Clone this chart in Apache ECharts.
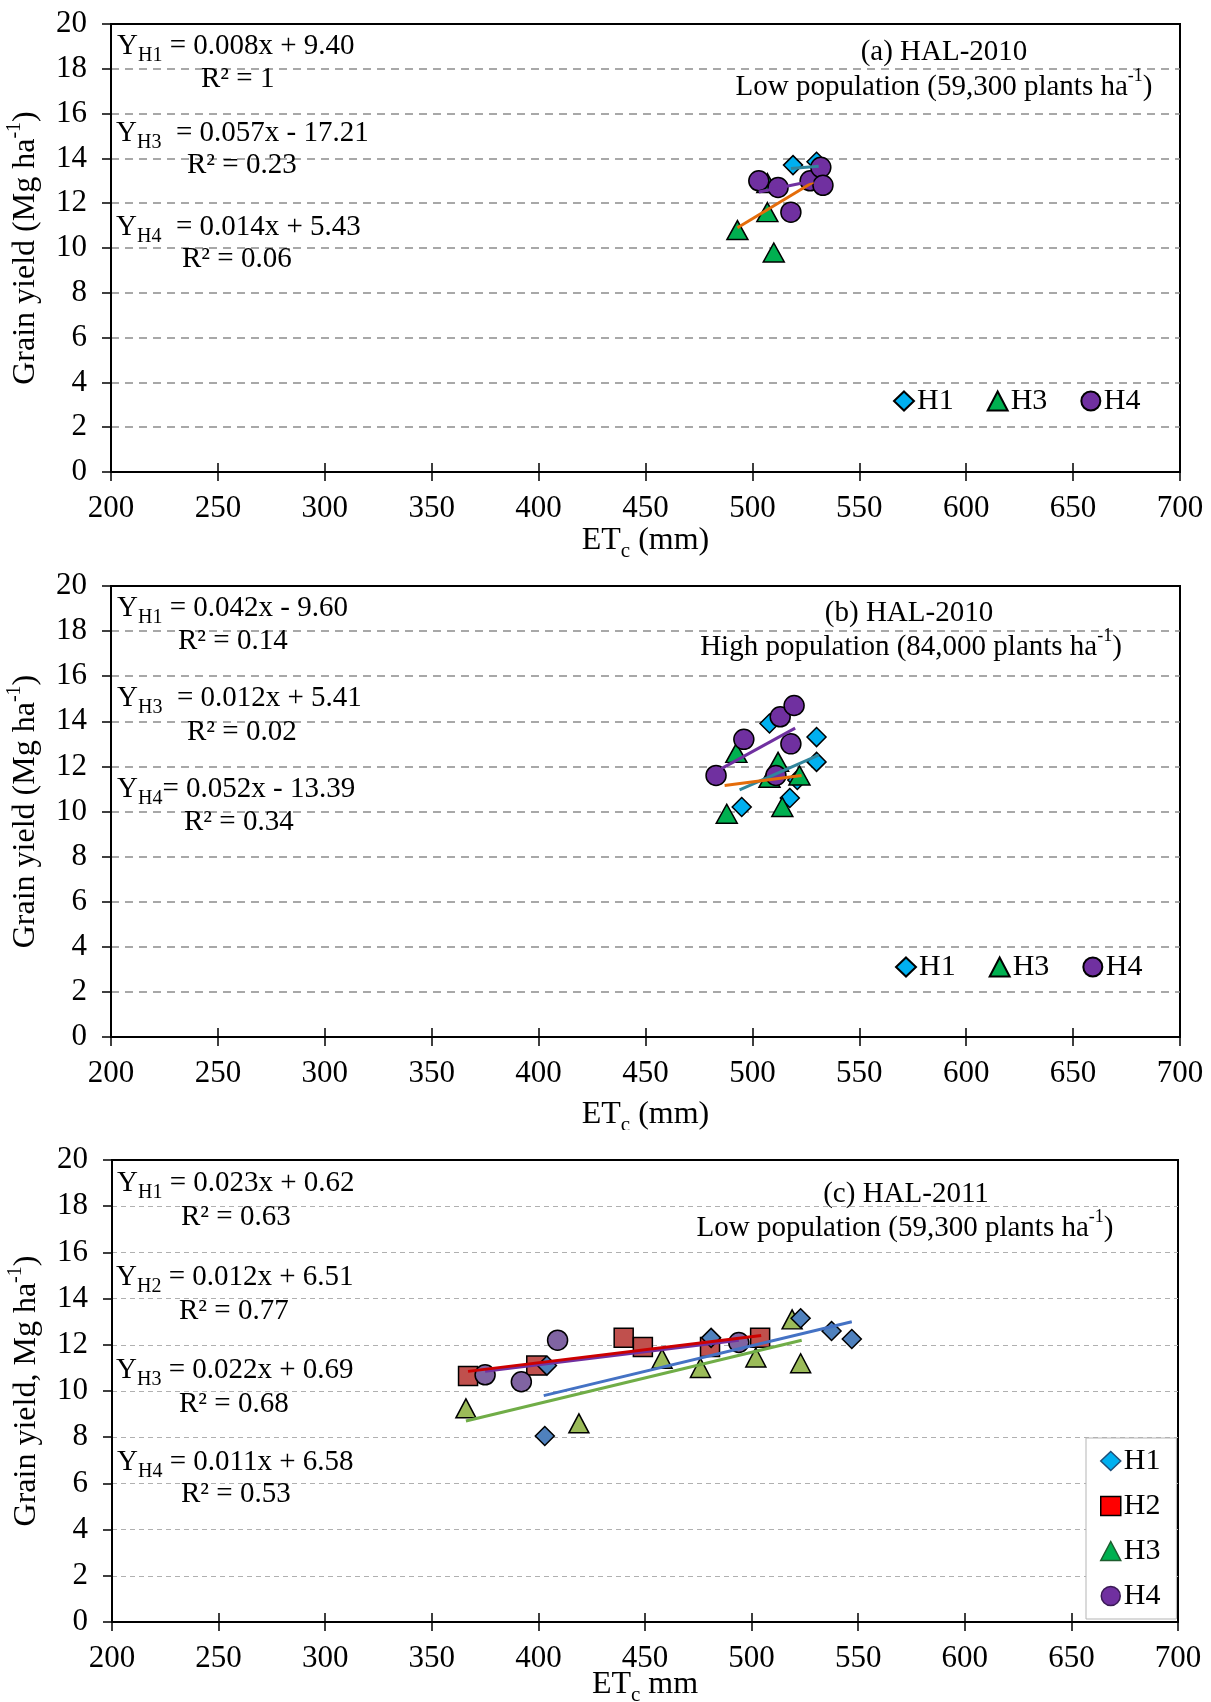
<!DOCTYPE html>
<html>
<head>
<meta charset="utf-8">
<script src="https://cdn.jsdelivr.net/npm/echarts@6/dist/echarts.min.js"></script>
<style>
html, body { margin: 0; padding: 0; background: #fff; }
#wrap { position: relative; width: 1211px; height: 1702px; }
.panel { position: absolute; left: 0; width: 1211px; }
</style>
</head>
<body>
<div id="wrap">
  <div id="chartA" class="panel" style="top:0;height:560px"></div>
  <div id="chartB" class="panel" style="top:560px;height:570px"></div>
  <div id="chartC" class="panel" style="top:1130px;height:572px"></div>
</div>
<script>
// axis ticks
const xTicks = [200, 250, 300, 350, 400, 450, 500, 550, 600, 650, 700]
const yTicks = [0, 2, 4, 6, 8, 10, 12, 14, 16, 18, 20]

// (a) HAL-2010, low population
const aH1_et = [519, 530]
const aH1_y = [13.7, 13.85]
const aH3_et = [493, 507, 507, 510]
const aH3_y = [10.8, 11.6, 12.9, 9.8]
const aH4_et = [503, 512, 518, 527, 532, 533]
const aH4_y = [13.0, 12.7, 11.6, 13.0, 13.6, 12.8]
const aH1_fit_et = [518, 531]
const aH1_fit_y = [13.55, 13.65]
const aH3_fit_et = [493, 528.5]
const aH3_fit_y = [10.9, 12.95]
const aH4_fit_et = [503, 528.5]
const aH4_fit_y = [12.5, 13.0]

// (b) HAL-2010, high population
const bH1_et = [508, 530, 530, 521, 517.5, 495]
const bH1_y = [13.9, 13.3, 12.2, 11.4, 10.6, 10.2]
const bH3_et = [492.5, 512, 508, 522, 488, 514]
const bH3_y = [12.6, 12.2, 11.5, 11.6, 9.9, 10.2]
const bH4_et = [483, 496, 513, 519.5, 518, 511]
const bH4_y = [11.6, 13.2, 14.2, 14.7, 13.0, 11.6]
const bH1_fit_et = [494, 531]
const bH1_fit_y = [10.96, 12.5]
const bH3_fit_et = [487, 523]
const bH3_fit_y = [11.15, 11.6]
const bH4_fit_et = [485.5, 520]
const bH4_fit_y = [11.9, 13.7]

// (c) HAL-2011, low population
const cH1_et = [404, 403, 481, 523, 537.5, 547]
const cH1_y = [11.1, 8.05, 12.3, 13.15, 12.6, 12.25]
const cH2_et = [367, 399, 440, 449, 480.5, 504]
const cH2_y = [10.65, 11.1, 12.3, 11.9, 11.9, 12.3]
const cH3_et = [366, 419, 458, 476, 502, 519, 523]
const cH3_y = [9.25, 8.6, 11.4, 11.0, 11.45, 13.1, 11.2]
const cH4_et = [375, 392, 409, 494]
const cH4_y = [10.7, 10.4, 12.2, 12.1]
const cH1_fit_et = [402.5, 547]
const cH1_fit_y = [9.8, 13.0]
const cH2_fit_et = [367, 504.5]
const cH2_fit_y = [10.85, 12.4]
const cH3_fit_et = [366, 523.5]
const cH3_fit_y = [8.7, 12.2]
const cH4_fit_et = [375, 494]
const cH4_fit_y = [10.85, 12.2]

const FONT = '"Liberation Serif", "Times New Roman", serif'

// rich text for the equations and panel labels
const rich = {
  t: { fontFamily: FONT, fontSize: 29, color: '#000', lineHeight: 40 },
  s: { fontFamily: FONT, fontSize: 20, color: '#000', verticalAlign: 'bottom', lineHeight: 22 },
  p: { fontFamily: FONT, fontSize: 18, color: '#000', verticalAlign: 'top', lineHeight: 20 }
}
// a bit larger for the axis titles
const richName = {
  t: { fontFamily: FONT, fontSize: 32, color: '#000', lineHeight: 42 },
  s: { fontFamily: FONT, fontSize: 21, color: '#000', verticalAlign: 'bottom', lineHeight: 22 },
  p: { fontFamily: FONT, fontSize: 20, color: '#000', verticalAlign: 'top', lineHeight: 22 }
}

function pairs(xs, ys) {
  return xs.map((x, i) => [x, ys[i]])
}

function scatter(name, xs, ys, symbol, size, color, z) {
  return {
    name: name, type: 'scatter', data: pairs(xs, ys),
    symbol: symbol, symbolSize: size, z: z || 2,
    itemStyle: { color: color, borderColor: '#000', borderWidth: 1.5, opacity: 1 },
    emphasis: { disabled: true }
  }
}

function fit(name, xs, ys, color) {
  return {
    name: name, type: 'line', data: pairs(xs, ys), symbol: 'none', z: 5,
    lineStyle: { color: color, width: 3 }, emphasis: { disabled: true }
  }
}

function txt(x, y, text, align) {
  return {
    type: 'text', x: x, y: y, z: 10,
    style: {
      text: text, rich: rich, fill: '#000',
      font: '29px "Liberation Serif"',
      align: align || 'left', verticalAlign: 'middle',
      textAlign: align || 'left', textVerticalAlign: 'middle'
    }
  }
}

function axes(opt) {
  const xMin = xTicks[0], xMax = xTicks[xTicks.length - 1], xStep = xTicks[1] - xTicks[0]
  const yMin = yTicks[0], yMax = yTicks[yTicks.length - 1], yStep = yTicks[1] - yTicks[0]
  const xAxis = [{
    type: 'value', min: xMin, max: xMax, interval: xStep, position: 'bottom',
    axisLine: { onZero: false, lineStyle: { color: '#000', width: 2 } },
    axisTick: { length: 9, lineStyle: { color: '#000', width: 1.5 } },
    axisLabel: { fontFamily: FONT, fontSize: 31, color: '#000', margin: 21 },
    splitLine: { show: false },
    name: opt.xName, nameLocation: 'middle', nameGap: opt.xGap, nameMoveOverlap: false,
    nameTextStyle: { rich: richName }
  }, {
    type: 'value', min: xMin, max: xMax, interval: xStep, position: 'bottom',
    axisLine: { show: false },
    axisTick: { inside: true, length: 9, lineStyle: { color: '#000', width: 1.5 } },
    axisLabel: { show: false }, splitLine: { show: false }
  }]
  const yAxis = [{
    type: 'value', min: yMin, max: yMax, interval: yStep,
    axisLine: { onZero: false, lineStyle: { color: '#000', width: 2 } },
    axisTick: { length: 9, lineStyle: { color: '#000', width: 1.5 } },
    axisLabel: { fontFamily: FONT, fontSize: 31, color: '#000', margin: 24 },
    splitLine: { show: true, showMinLine: false, showMaxLine: false, lineStyle: opt.split },
    name: opt.yName, nameLocation: 'middle', nameGap: opt.yGap, nameRotate: 90, nameMoveOverlap: false,
    nameTextStyle: { rich: richName }
  }]
  return { xAxis: xAxis, yAxis: yAxis }
}

const yNameAB = '{t|Grain yield (Mg ha}{p|-1}{t|)}'
const splitAB = { color: '#8c8c8c', width: 1.6, type: [8, 6] }
const splitC = { color: '#b0b0b0', width: 1, type: [5, 4] }

function legendTop(top, left) {
  return {
    left: left, top: top, padding: 0, itemGap: 33, itemWidth: 20, itemHeight: 19,
    textStyle: { fontFamily: FONT, fontSize: 30, color: '#000', padding: [0, 0, 0, -2] },
    data: [{ name: 'H1', icon: 'diamond' }, { name: 'H3', icon: 'triangle' }, { name: 'H4', icon: 'circle' }],
    selectedMode: false
  }
}

// ---------- (a)
const chartA = echarts.init(document.getElementById('chartA'))
const axA = axes({ xName: '{t|ET}{s|c}{t| (mm)}', xGap: 48, yName: yNameAB, yGap: 64, split: splitAB })
chartA.setOption({
  animation: false,
  grid: { left: 111, top: 24, width: 1069, height: 448, show: true, borderColor: '#000', borderWidth: 2, outerBoundsMode: 'none' },
  xAxis: axA.xAxis, yAxis: axA.yAxis,
  legend: legendTop(386, 893),
  series: [
    scatter('H1', aH1_et, aH1_y, 'diamond', 19, '#00B0F0', 2),
    scatter('H3', aH3_et, aH3_y, 'triangle', [21, 19], '#00B050', 3),
    scatter('H4', aH4_et, aH4_y, 'circle', 20, '#7030A0', 4),
    fit('H1 fit', aH1_fit_et, aH1_fit_y, '#31859C'),
    fit('H3 fit', aH3_fit_et, aH3_fit_y, '#E46C0A'),
    fit('H4 fit', aH4_fit_et, aH4_fit_y, '#7030A0')
  ],
  graphic: [
    txt(117, 46, '{t|Y}{s|H1}{t| = 0.008x + 9.40}'),
    txt(201, 79, '{t|R² = 1}'),
    txt(116, 133, '{t|Y}{s|H3}{t|  = 0.057x - 17.21}'),
    txt(187, 165, '{t|R² = 0.23}'),
    txt(116, 227, '{t|Y}{s|H4}{t|  = 0.014x + 5.43}'),
    txt(182, 259, '{t|R² = 0.06}'),
    txt(944, 52, '{t|(a) HAL-2010}', 'center'),
    txt(944, 87, '{t|Low population (59,300 plants ha}{p|-1}{t|)}', 'center')
  ]
})

// ---------- (b)
const chartB = echarts.init(document.getElementById('chartB'))
const axB = axes({ xName: '{t|ET}{s|c}{t| (mm)}', xGap: 57, yName: yNameAB, yGap: 64, split: splitAB })
chartB.setOption({
  animation: false,
  grid: { left: 111, top: 26, width: 1069, height: 451, show: true, borderColor: '#000', borderWidth: 2, outerBoundsMode: 'none' },
  xAxis: axB.xAxis, yAxis: axB.yAxis,
  legend: legendTop(392, 895),
  series: [
    scatter('H1', bH1_et, bH1_y, 'diamond', 19, '#00B0F0', 2),
    scatter('H3', bH3_et, bH3_y, 'triangle', [21, 19], '#00B050', 3),
    scatter('H4', bH4_et, bH4_y, 'circle', 20, '#7030A0', 4),
    fit('H1 fit', bH1_fit_et, bH1_fit_y, '#31859C'),
    fit('H3 fit', bH3_fit_et, bH3_fit_y, '#E46C0A'),
    fit('H4 fit', bH4_fit_et, bH4_fit_y, '#7030A0')
  ],
  graphic: [
    txt(117, 48, '{t|Y}{s|H1}{t| = 0.042x - 9.60}'),
    txt(178, 81, '{t|R² = 0.14}'),
    txt(117, 138, '{t|Y}{s|H3}{t|  = 0.012x + 5.41}'),
    txt(187, 172, '{t|R² = 0.02}'),
    txt(117, 229, '{t|Y}{s|H4}{t|= 0.052x - 13.39}'),
    txt(184, 262, '{t|R² = 0.34}'),
    txt(909, 53, '{t|(b) HAL-2010}', 'center'),
    txt(911, 87, '{t|High population (84,000 plants ha}{p|-1}{t|)}', 'center')
  ]
})

// ---------- (c)
const chartC = echarts.init(document.getElementById('chartC'))
const axC = axes({ xName: '{t|ET}{s|c}{t| mm}', xGap: 42, yName: '{t|Grain yield, Mg ha}{p|-1}{t|)}', yGap: 64, split: splitC })
chartC.setOption({
  animation: false,
  grid: { left: 112, top: 30, width: 1066, height: 462, show: true, borderColor: '#000', borderWidth: 2, outerBoundsMode: 'none' },
  xAxis: axC.xAxis, yAxis: axC.yAxis,
  legend: {
    orient: 'vertical', left: 1086, top: 308, padding: [8, 16, 8, 14], itemGap: 15,
    itemWidth: 20, itemHeight: 19, borderColor: '#b5b5b5', borderWidth: 1, backgroundColor: '#fff',
    textStyle: { fontFamily: FONT, fontSize: 30, color: '#000', padding: [0, 0, 0, -2] },
    selectedMode: false,
    data: [
      { name: 'H1', icon: 'diamond', itemStyle: { color: '#00B0F0', borderColor: '#1f4e79', borderWidth: 1.5 } },
      { name: 'H2', icon: 'rect', itemStyle: { color: '#FF0000', borderColor: '#000', borderWidth: 1.5 } },
      { name: 'H3', icon: 'triangle', itemStyle: { color: '#00B050', borderColor: '#1e5c2e', borderWidth: 1.5 } },
      { name: 'H4', icon: 'circle', itemStyle: { color: '#7030A0', borderColor: '#3a1a55', borderWidth: 1.5 } }
    ]
  },
  series: [
    scatter('H2', cH2_et, cH2_y, 'rect', 19, '#C0504D', 2),
    scatter('H3', cH3_et, cH3_y, 'triangle', [20, 19], '#9BBB59', 3),
    scatter('H4', cH4_et, cH4_y, 'circle', 20, '#8064A2', 4),
    scatter('H1', cH1_et, cH1_y, 'diamond', 19, '#4F81BD', 4),
    fit('H1 fit', cH1_fit_et, cH1_fit_y, '#4472C4'),
    fit('H3 fit', cH3_fit_et, cH3_fit_y, '#70AD47'),
    fit('H4 fit', cH4_fit_et, cH4_fit_y, '#7030A0'),
    fit('H2 fit', cH2_fit_et, cH2_fit_y, '#CC0000')
  ],
  graphic: [
    txt(117, 53, '{t|Y}{s|H1}{t| = 0.023x + 0.62}'),
    txt(181, 87, '{t|R² = 0.63}'),
    txt(116, 147, '{t|Y}{s|H2}{t| = 0.012x + 6.51}'),
    txt(179, 181, '{t|R² = 0.77}'),
    txt(116, 240, '{t|Y}{s|H3}{t| = 0.022x + 0.69}'),
    txt(179, 274, '{t|R² = 0.68}'),
    txt(117, 332, '{t|Y}{s|H4}{t| = 0.011x + 6.58}'),
    txt(181, 364, '{t|R² = 0.53}'),
    txt(906, 64, '{t|(c) HAL-2011}', 'center'),
    txt(905, 98, '{t|Low population (59,300 plants ha}{p|-1}{t|)}', 'center')
  ]
})
</script>
</body>
</html>
